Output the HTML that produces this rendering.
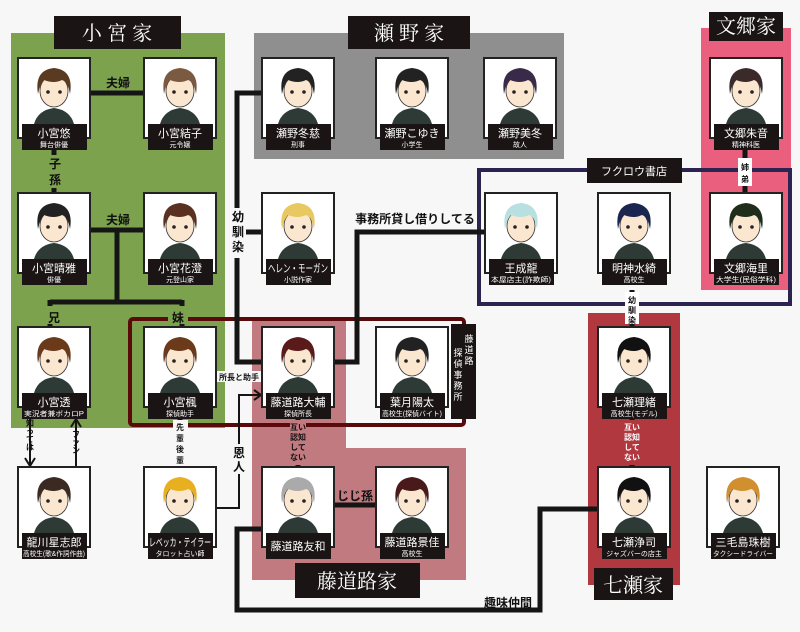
<!DOCTYPE html>
<html><head><meta charset="utf-8"><style>
html,body{margin:0;padding:0;background:#f7f7f7}
svg{display:block}
text{font-family:"Liberation Sans","Noto Sans CJK JP",sans-serif}
.n{fill:#fff;font-size:11px;text-anchor:middle}
.s{fill:#fff;font-size:7px;text-anchor:middle}
.t{fill:#fff;font-size:20px;text-anchor:middle;font-family:"Noto Serif CJK SC","Liberation Serif",serif}
.l{fill:#111;font-size:12px;font-weight:bold;text-anchor:middle}
.sl{fill:#111;font-size:8px;font-weight:bold;text-anchor:middle}
</style></head><body>
<svg width="800" height="632" viewBox="0 0 800 632" xmlns="http://www.w3.org/2000/svg">
<defs>
<symbol id="face" viewBox="0 0 72 66" width="72" height="66">
<path d="M16 66 Q20 52 36 50 Q52 52 56 66 Z" fill="#2e3a36"/>
<ellipse cx="36" cy="33" rx="14" ry="16" fill="#fbe6d0" stroke="#333" stroke-width="0.8"/>
<path d="M20 36 Q16 12 36 10 Q56 12 52 36 Q50 24 44 22 Q36 26 26 22 Q22 26 20 36 Z" fill="currentColor"/>
<circle cx="30" cy="34" r="1.8" fill="#222"/><circle cx="42" cy="34" r="1.8" fill="#222"/>
</symbol>
</defs>
<rect width="800" height="632" fill="#f7f7f7"/>
<rect x="11" y="33" width="214" height="395" fill="#7da24e"/>
<rect x="254" y="33" width="310" height="126" fill="#8f8f8f"/>
<rect x="701" y="28" width="90" height="262" fill="#ea5f7e"/>
<path d="M252 318 H346 V448 H466 V580 H252 Z" fill="#c07a80"/>
<rect x="588" y="313" width="92" height="272" fill="#b0383e"/>
<rect x="479" y="170" width="311" height="134" fill="none" stroke="#2c2350" stroke-width="4"/>
<rect x="130" y="319" width="334" height="106" rx="3" fill="none" stroke="#5a0a0a" stroke-width="4"/>
<g stroke="#151515" stroke-width="5" fill="none">
<path d="M90 93 H144"/><path d="M54 150 V193"/>
<path d="M90 230 H144"/><path d="M117 230 V302 M50 302 H182 M50 300 V327 M182 300 V327"/>
<path d="M262 93 H237 V362 H262 M237 232 H262"/>
<path d="M485 232 H357 V362 H334"/>
<path d="M334 505 H376"/>
<path d="M262 529 H237 V610 H540 V509 H598"/>
<path d="M745 150 V193"/><path d="M632 290 V327"/>
<path d="M632 418 V467"/><path d="M298 418 V467"/><path d="M180 418 V467"/>
</g>
<g stroke="#151515" stroke-width="2" fill="none">
<path d="M216 508 H239 V395 H260"/><path d="M254 390 L261 395 L254 400"/>
<path d="M30 418 V465"/><path d="M25 458 L30 466 L35 458"/>
<path d="M76 467 V420"/><path d="M71 427 L76 419 L81 427"/>
</g>
<rect x="99" y="74" width="38" height="15" fill="#7da24e"/><text class="l" x="118" y="87" font-size="13">夫婦</text>
<rect x="99" y="211" width="38" height="15" fill="#7da24e"/><text class="l" x="118" y="224" font-size="13">夫婦</text>
<rect x="46" y="155" width="18" height="33" fill="#7da24e"/><text class="l" x="55" y="168" font-size="13">子</text><text class="l" x="55" y="184" font-size="13">孫</text>
<rect x="44" y="306" width="20" height="18" fill="#7da24e"/><rect x="168" y="306" width="20" height="18" fill="#7da24e"/>
<text class="l" x="54" y="322" font-size="15">兄</text><text class="l" x="178" y="322" font-size="15">妹</text>
<rect x="229" y="208" width="17" height="50" fill="#f7f7f7"/>
<text class="l" x="238" y="221">幼</text><text class="l" x="238" y="236">馴</text><text class="l" x="238" y="251">染</text>
<text class="l" x="415" y="223" font-size="10">事務所貸し借りしてる</text>
<rect x="216" y="371" width="46" height="11" fill="#f7f7f7"/><text class="sl" x="239" y="380">所長と助手</text>
<rect x="231" y="444" width="16" height="30" fill="#f7f7f7"/><text class="l" x="239" y="457">恩</text><text class="l" x="239" y="471">人</text>
<rect x="173" y="420" width="15" height="46" fill="#f7f7f7"/>
<text class="sl" x="180" y="430" font-size="10">先</text><text class="sl" x="180" y="441" font-size="10">輩</text><text class="sl" x="180" y="452" font-size="10">後</text><text class="sl" x="180" y="463" font-size="10">輩</text>
<text class="sl" x="30" y="426" font-size="7">知</text><text class="sl" x="30" y="434" font-size="7">っ</text><text class="sl" x="30" y="442" font-size="7">て</text><text class="sl" x="30" y="450" font-size="7">は</text>
<text class="sl" x="76" y="437" font-size="7">フ</text><text class="sl" x="76" y="445" font-size="7">ァ</text><text class="sl" x="76" y="453" font-size="7">ン</text>
<rect x="290" y="420" width="16" height="45" fill="#c07a80"/>
<text class="sl" x="298" y="430" font-size="7">互い</text><text class="sl" x="298" y="440" font-size="7">認知</text><text class="sl" x="298" y="450" font-size="7">して</text><text class="sl" x="298" y="460" font-size="7">ない</text>
<rect x="624" y="420" width="16" height="45" fill="#b0383e"/>
<text class="sl" x="632" y="430" font-size="7" style="fill:#fff">互い</text><text class="sl" x="632" y="440" font-size="7" style="fill:#fff">認知</text><text class="sl" x="632" y="450" font-size="7" style="fill:#fff">して</text><text class="sl" x="632" y="460" font-size="7" style="fill:#fff">ない</text>
<text class="l" x="355" y="500" font-size="10">じじ孫</text>
<text class="l" x="508" y="607" font-size="10">趣味仲間</text>
<rect x="738" y="158" width="14" height="28" fill="#fff"/><text class="sl" x="745" y="170" font-size="10">姉</text><text class="sl" x="745" y="182" font-size="10">弟</text>
<rect x="625" y="292" width="14" height="32" fill="#fff"/><text class="sl" x="632" y="303" font-size="9">幼</text><text class="sl" x="632" y="313" font-size="9">馴</text><text class="sl" x="632" y="323" font-size="9">染</text>
<rect x="54" y="16" width="127" height="33" fill="#1a1414"/><text class="t" x="117" y="40">小 宮 家</text>
<rect x="348" y="16" width="122" height="33" fill="#1a1414"/><text class="t" x="409" y="40">瀬 野 家</text>
<rect x="709" y="12" width="74" height="29" fill="#1a1414"/><text class="t" x="746" y="33" font-size="17">文郷家</text>
<rect x="587" y="158" width="95" height="25" fill="#1a1414"/><text class="n" x="634" y="175">フクロウ書店</text>
<rect x="451" y="324" width="25" height="95" fill="#1a1414"/>
<g style="font-size:9px">
<text class="n" x="469" y="342" style="font-size:9px">藤</text><text class="n" x="469" y="353" style="font-size:9px">道</text><text class="n" x="469" y="364" style="font-size:9px">路</text>
<text class="n" x="458" y="356" style="font-size:9px">探</text><text class="n" x="458" y="367" style="font-size:9px">偵</text><text class="n" x="458" y="378" style="font-size:9px">事</text><text class="n" x="458" y="389" style="font-size:9px">務</text><text class="n" x="458" y="400" style="font-size:9px">所</text>
</g>
<rect x="295" y="563" width="125" height="35" fill="#1a1414"/><text class="t" x="357" y="588">藤道路家</text>
<rect x="594" y="568" width="79" height="32" fill="#1a1414"/><text class="t" x="633" y="592" font-size="18">七瀬家</text>
<g>
<g transform="translate(18,58)"><rect width="72" height="80" fill="#fff" stroke="#222" stroke-width="2"/><use href="#face" style="color:#5a3a20"/><rect x="4" y="66" width="65" height="26" fill="#1a1414"/><text class="n" x="36" y="79">小宮悠</text><text class="s" x="36" y="89">舞台俳優</text></g>
<g transform="translate(144,58)"><rect width="72" height="80" fill="#fff" stroke="#222" stroke-width="2"/><use href="#face" style="color:#7a5a40"/><rect x="4" y="66" width="65" height="26" fill="#1a1414"/><text class="n" x="36" y="79">小宮結子</text><text class="s" x="36" y="89">元令嬢</text></g>
<g transform="translate(262,58)"><rect width="72" height="80" fill="#fff" stroke="#222" stroke-width="2"/><use href="#face" style="color:#222"/><rect x="4" y="66" width="65" height="26" fill="#1a1414"/><text class="n" x="36" y="79">瀬野冬慈</text><text class="s" x="36" y="89">刑事</text></g>
<g transform="translate(376,58)"><rect width="72" height="80" fill="#fff" stroke="#222" stroke-width="2"/><use href="#face" style="color:#222"/><rect x="4" y="66" width="65" height="26" fill="#1a1414"/><text class="n" x="36" y="79">瀬野こゆき</text><text class="s" x="36" y="89">小学生</text></g>
<g transform="translate(484,58)"><rect width="72" height="80" fill="#fff" stroke="#222" stroke-width="2"/><use href="#face" style="color:#3a2a4a"/><rect x="4" y="66" width="65" height="26" fill="#1a1414"/><text class="n" x="36" y="79">瀬野美冬</text><text class="s" x="36" y="89">故人</text></g>
<g transform="translate(710,58)"><rect width="72" height="80" fill="#fff" stroke="#222" stroke-width="2"/><use href="#face" style="color:#3a2a2a"/><rect x="4" y="66" width="65" height="26" fill="#1a1414"/><text class="n" x="36" y="79">文郷朱音</text><text class="s" x="36" y="89">精神科医</text></g>
<g transform="translate(18,193)"><rect width="72" height="80" fill="#fff" stroke="#222" stroke-width="2"/><use href="#face" style="color:#222"/><rect x="4" y="66" width="65" height="26" fill="#1a1414"/><text class="n" x="36" y="79">小宮晴雅</text><text class="s" x="36" y="89">俳優</text></g>
<g transform="translate(144,193)"><rect width="72" height="80" fill="#fff" stroke="#222" stroke-width="2"/><use href="#face" style="color:#5a3020"/><rect x="4" y="66" width="65" height="26" fill="#1a1414"/><text class="n" x="36" y="79">小宮花澄</text><text class="s" x="36" y="89">元登山家</text></g>
<g transform="translate(262,193)"><rect width="72" height="80" fill="#fff" stroke="#222" stroke-width="2"/><use href="#face" style="color:#e8c860"/><rect x="4" y="66" width="65" height="26" fill="#1a1414"/><text class="n" x="36" y="79" font-size="9" textLength="60" lengthAdjust="spacingAndGlyphs">ヘレン・モーガン</text><text class="s" x="36" y="89">小説作家</text></g>
<g transform="translate(485,193)"><rect width="72" height="80" fill="#fff" stroke="#222" stroke-width="2"/><use href="#face" style="color:#b8e0e0"/><rect x="4" y="66" width="65" height="26" fill="#1a1414"/><text class="n" x="36" y="79">王成龍</text><text class="s" x="36" y="89" textLength="60" lengthAdjust="spacingAndGlyphs">本屋店主(詐欺師)</text></g>
<g transform="translate(598,193)"><rect width="72" height="80" fill="#fff" stroke="#222" stroke-width="2"/><use href="#face" style="color:#1a2550"/><rect x="4" y="66" width="65" height="26" fill="#1a1414"/><text class="n" x="36" y="79">明神水綺</text><text class="s" x="36" y="89">高校生</text></g>
<g transform="translate(710,193)"><rect width="72" height="80" fill="#fff" stroke="#222" stroke-width="2"/><use href="#face" style="color:#1e2e1a"/><rect x="4" y="66" width="65" height="26" fill="#1a1414"/><text class="n" x="36" y="79">文郷海里</text><text class="s" x="36" y="89" textLength="60" lengthAdjust="spacingAndGlyphs">大学生(民俗学科)</text></g>
<g transform="translate(18,327)"><rect width="72" height="80" fill="#fff" stroke="#222" stroke-width="2"/><use href="#face" style="color:#6a3a1a"/><rect x="4" y="66" width="65" height="26" fill="#1a1414"/><text class="n" x="36" y="79">小宮透</text><text class="s" x="36" y="89" textLength="60" lengthAdjust="spacingAndGlyphs">実況者兼ボカロP</text></g>
<g transform="translate(144,327)"><rect width="72" height="80" fill="#fff" stroke="#222" stroke-width="2"/><use href="#face" style="color:#6a3a1a"/><rect x="4" y="66" width="65" height="26" fill="#1a1414"/><text class="n" x="36" y="79">小宮楓</text><text class="s" x="36" y="89">探偵助手</text></g>
<g transform="translate(262,327)"><rect width="72" height="80" fill="#fff" stroke="#222" stroke-width="2"/><use href="#face" style="color:#5a1a1a"/><rect x="4" y="66" width="65" height="26" fill="#1a1414"/><text class="n" x="36" y="79">藤道路大輔</text><text class="s" x="36" y="89">探偵所長</text></g>
<g transform="translate(376,327)"><rect width="72" height="80" fill="#fff" stroke="#222" stroke-width="2"/><use href="#face" style="color:#222"/><rect x="4" y="66" width="65" height="26" fill="#1a1414"/><text class="n" x="36" y="79">葉月陽太</text><text class="s" x="36" y="89" textLength="60" lengthAdjust="spacingAndGlyphs">高校生(探偵バイト)</text></g>
<g transform="translate(598,327)"><rect width="72" height="80" fill="#fff" stroke="#222" stroke-width="2"/><use href="#face" style="color:#111"/><rect x="4" y="66" width="65" height="26" fill="#1a1414"/><text class="n" x="36" y="79">七瀬理緒</text><text class="s" x="36" y="89">高校生(モデル)</text></g>
<g transform="translate(18,467)"><rect width="72" height="80" fill="#fff" stroke="#222" stroke-width="2"/><use href="#face" style="color:#3a2a22"/><rect x="4" y="66" width="65" height="26" fill="#1a1414"/><text class="n" x="36" y="79">龍川星志郎</text><text class="s" x="36" y="89" textLength="62" lengthAdjust="spacingAndGlyphs">高校生(歌&amp;作詞作曲)</text></g>
<g transform="translate(144,467)"><rect width="72" height="80" fill="#fff" stroke="#222" stroke-width="2"/><use href="#face" style="color:#e8b020"/><rect x="4" y="66" width="65" height="26" fill="#1a1414"/><text class="n" x="36" y="79" font-size="9" textLength="62" lengthAdjust="spacingAndGlyphs">レベッカ・テイラー</text><text class="s" x="36" y="89">タロット占い師</text></g>
<g transform="translate(262,467)"><rect width="72" height="80" fill="#fff" stroke="#222" stroke-width="2"/><use href="#face" style="color:#aaa"/><rect x="4" y="66" width="65" height="26" fill="#1a1414"/><text class="n" x="36" y="83">藤道路友和</text></g>
<g transform="translate(376,467)"><rect width="72" height="80" fill="#fff" stroke="#222" stroke-width="2"/><use href="#face" style="color:#4a1a1a"/><rect x="4" y="66" width="65" height="26" fill="#1a1414"/><text class="n" x="36" y="79">藤道路景佳</text><text class="s" x="36" y="89">高校生</text></g>
<g transform="translate(598,467)"><rect width="72" height="80" fill="#fff" stroke="#222" stroke-width="2"/><use href="#face" style="color:#111"/><rect x="4" y="66" width="65" height="26" fill="#1a1414"/><text class="n" x="36" y="79">七瀬浄司</text><text class="s" x="36" y="89">ジャズバーの店主</text></g>
<g transform="translate(707,467)"><rect width="72" height="80" fill="#fff" stroke="#222" stroke-width="2"/><use href="#face" style="color:#d09030"/><rect x="4" y="66" width="65" height="26" fill="#1a1414"/><text class="n" x="36" y="79">三毛島珠樹</text><text class="s" x="36" y="89" textLength="60" lengthAdjust="spacingAndGlyphs">タクシードライバー</text></g>
</g>
</svg>
</body></html>
